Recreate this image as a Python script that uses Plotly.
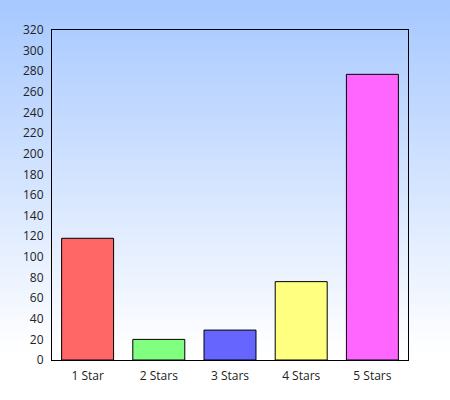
import base64

import plotly.graph_objects as go

# Data
categories = ['1 Star', '2 Stars', '3 Stars', '4 Stars', '5 Stars']
counts = [118, 20, 29, 76, 277]
bar_colors = ['#ff6666', '#80ff80', '#6666ff', '#ffff80', '#ff66ff']

W, H = 450, 400
ML, MR, MT, MB = 52, 42, 30, 40

# vertical gradient background as an svg image
bg_svg = (
    '<svg xmlns="http://www.w3.org/2000/svg" width="450" height="400">'
    '<defs><linearGradient id="g" x1="0" y1="0" x2="0" y2="1">'
    '<stop offset="0" stop-color="#a6c8ff"/>'
    '<stop offset="0.88" stop-color="#ffffff"/>'
    '<stop offset="1" stop-color="#ffffff"/>'
    '</linearGradient></defs>'
    '<rect width="450" height="400" fill="url(#g)"/></svg>'
)
bg_src = 'data:image/svg+xml;base64,' + base64.b64encode(bg_svg.encode()).decode()

pw = W - ML - MR
ph = H - MT - MB

fig = go.Figure()
fig.add_trace(go.Bar(
    x=categories, y=counts,
    marker=dict(color=bar_colors, line=dict(color='black', width=1)),
    width=0.73,
))

fig.add_layout_image(dict(
    source=bg_src, xref='paper', yref='paper',
    x=-ML / pw, y=1 + MT / ph, sizex=W / pw, sizey=H / ph,
    xanchor='left', yanchor='top', sizing='stretch', layer='below',
))

fig.update_layout(
    width=W, height=H,
    margin=dict(l=ML, r=MR, t=MT, b=MB),
    paper_bgcolor='white',
    plot_bgcolor='rgba(0,0,0,0)',
    font=dict(family='Open Sans', size=12, color='#222'),
    showlegend=False,
)
fig.update_xaxes(showline=True, linecolor='black', linewidth=1, mirror=True,
                 ticks='', showgrid=False, ticklabelstandoff=5)
fig.update_yaxes(showline=True, linecolor='black', linewidth=1, mirror=True,
                 range=[0, 320], dtick=20, ticks='', showgrid=False,
                 zeroline=False, ticklabelstandoff=5)

# drop the default page margin so the chart fills the window
fig.write_html("out.html", config={'displayModeBar': False},
               post_script="document.body.style.margin='0';")
